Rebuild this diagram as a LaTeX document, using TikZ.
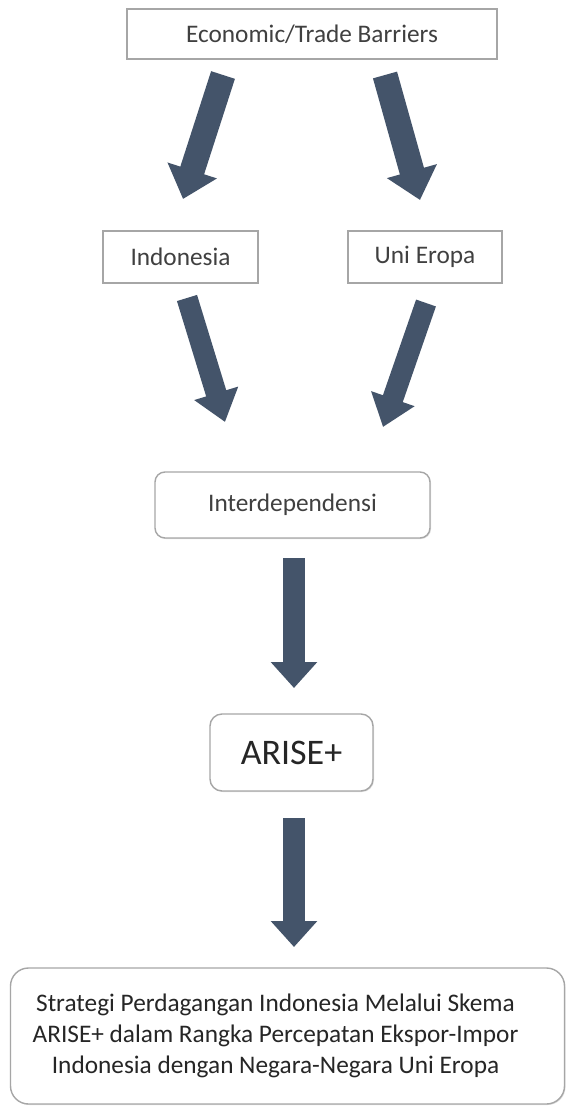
\documentclass[tikz,border=0pt]{standalone}
\usepackage{fontspec}
\setmainfont{Carlito}
\usetikzlibrary{arrows.meta,shadows}
\definecolor{arrowc}{HTML}{44546A}
\definecolor{boxline}{HTML}{A6A6A6}
\definecolor{txtgray}{HTML}{404040}
\definecolor{txtdark}{HTML}{262626}
\tikzset{
  plainbox/.style={draw=boxline, line width=1.4pt, fill=white, text=txtgray,
    font=\fontsize{25.3}{31}\selectfont, inner sep=0pt,
    drop shadow={shadow xshift=1pt, shadow yshift=-1pt, opacity=0.25}},
  roundbox/.style={plainbox, rounded corners=#1},
  fatarrow/.style={draw=arrowc, line width=#1},
  tipA/.style={-{Triangle[width=50pt,length=30pt]}},
  tipB/.style={-{Triangle[width=44pt,length=30pt]}},
  tipC/.style={-{Triangle[width=45pt,length=26pt]}},
}
\begin{document}
\begin{tikzpicture}[x=1pt,y=-1pt]
\useasboundingbox[fill=white] (0,0) rectangle (566,1107);

\node[plainbox, minimum width=370pt, minimum height=50pt] (top) at (312,34) {Economic/Trade Barriers};
\node[plainbox, minimum width=155pt, minimum height=52pt] (ind) at (180.5,257) {Indonesia};
\node[plainbox, minimum width=154pt, minimum height=52pt] (eu) at (425,257) {Uni Eropa};
\node[roundbox=10pt, minimum width=275pt, minimum height=66pt] (inter) at (292.5,505) {Interdependensi};
\node[roundbox=12pt, minimum width=163pt, minimum height=77pt, text=txtdark,
      font=\fontsize{36}{40}\selectfont] (arise) at (291.5,752.5) {ARISE+};
\node[roundbox=18pt, minimum width=554pt, minimum height=136pt] (goal) at (287.5,1036) {};
\node[text=txtdark, font=\fontsize{25.3}{31}\selectfont, align=center, inner sep=0pt]
  (goaltext) at ([xshift=-12pt]goal.center)
  {Strategi Perdagangan Indonesia Melalui Skema\\ARISE+ dalam Rangka Percepatan Ekspor-Impor\\Indonesia dengan Negara-Negara Uni Eropa};

% arrow end points
\coordinate (a1s) at (223,75);   \coordinate (a1e) at (183,199);
\coordinate (a2s) at (385,75);   \coordinate (a2e) at (420,200);
\coordinate (a3s) at (187,298);  \coordinate (a3e) at (225,422);
\coordinate (a4s) at (426,303);  \coordinate (a4e) at (383,427);
\coordinate (a5s) at (294,558);  \coordinate (a5e) at (294,688);
\coordinate (a6s) at (294,818);  \coordinate (a6e) at (294,947);

\draw[fatarrow=25pt, tipA] (a1s) -- (a1e);
\draw[fatarrow=25pt, tipA] (a2s) -- (a2e);
\draw[fatarrow=21pt, tipB] (a3s) -- (a3e);
\draw[fatarrow=21pt, tipB] (a4s) -- (a4e);
\draw[fatarrow=22pt, tipC] (a5s) -- (a5e);
\draw[fatarrow=22pt, tipC] (a6s) -- (a6e);
\end{tikzpicture}
\end{document}
